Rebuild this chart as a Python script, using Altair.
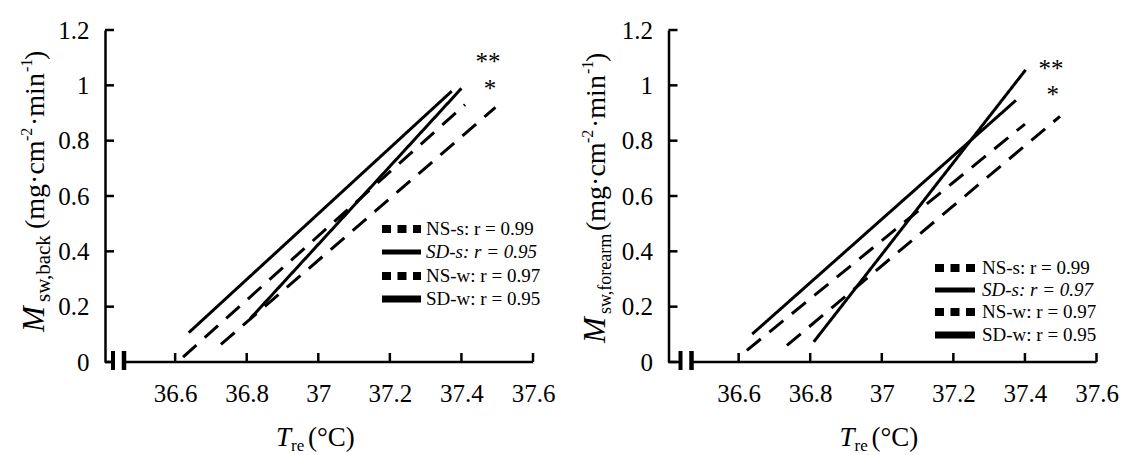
import altair as alt
import pandas as pd

FONT = "Liberation Serif"

series = ["NS-s", "SD-s", "NS-w", "SD-w"]
kinds = ["dash", "solid", "dash", "solid"]

# Panel 1: back
back_x0 = [36.622, 36.638, 36.728, 36.810]
back_x1 = [37.410, 37.373, 37.495, 37.400]
back_y0 = [0.018, 0.106, 0.064, 0.157]
back_y1 = [0.930, 0.979, 0.920, 0.989]
back_r = ["0.99", "0.95", "0.97", "0.95"]

# Panel 2: forearm
fore_x0 = [36.623, 36.638, 36.735, 36.810]
fore_x1 = [37.400, 37.375, 37.498, 37.402]
fore_y0 = [0.042, 0.101, 0.060, 0.073]
fore_y1 = [0.860, 0.946, 0.888, 1.056]
fore_r = ["0.99", "0.97", "0.97", "0.95"]

x_ticks = [36.6, 36.8, 37.0, 37.2, 37.4, 37.6]
y_ticks = [0, 0.2, 0.4, 0.6, 0.8, 1.0, 1.2]

# significance marks (x, y)
back_stars = [("**", 37.474, 1.105), ("*", 37.480, 1.010)]
fore_stars = [("**", 37.473, 1.080), ("*", 37.478, 0.988)]

W, H = 428, 332
one = alt.Data(values=[{"a": 1}])
LABEL_SIZE = 25

X_AXIS = alt.Axis(
    values=x_ticks, format="~g", ticks=False, domain=False, grid=False,
    labelFont=FONT, labelFontSize=LABEL_SIZE, labelColor="black",
    labelPadding=19, labelFlush=False, title=None)
Y_AXIS = alt.Axis(
    values=y_ticks, format="~g", ticks=False, domain=True,
    domainColor="black", domainWidth=2.5, grid=False,
    labelFont=FONT, labelFontSize=LABEL_SIZE, labelColor="black",
    labelPadding=16, labelFlush=False, title=None)


def txt(text, x, y, size, italic=False, angle=0, align="left", baseline="alphabetic"):
    kw = dict(font=FONT, fontSize=size, color="black", align=align, baseline=baseline)
    if italic:
        kw["fontStyle"] = "italic"
    if angle:
        kw["angle"] = angle
    return alt.Chart(one).mark_text(**kw).encode(
        x=alt.value(x), y=alt.value(y), text=alt.value(text)
    )


def hrule(x1, x2, y, width, dash=None, opacity=1):
    kw = dict(color="black", strokeWidth=width, strokeOpacity=opacity)
    if dash:
        kw["strokeDash"] = dash
    return alt.Chart(one).mark_rule(**kw).encode(
        x=alt.value(x1), x2=alt.value(x2), y=alt.value(y)
    )


def vrule(x, y1, y2, width):
    return alt.Chart(one).mark_rule(color="black", strokeWidth=width).encode(
        x=alt.value(x), y=alt.value(y1), y2=alt.value(y2)
    )


def make_panel(x0s, x1s, y0s, y1s, rvals, stars, sub, cfg):
    rows = []
    for s, k, a, b, c, d in zip(series, kinds, x0s, x1s, y0s, y1s):
        rows.append({"series": s, "kind": k, "T": a, "M": c})
        rows.append({"series": s, "kind": k, "T": b, "M": d})
    df = pd.DataFrame(rows)
    xs = alt.Scale(domain=[36.404, 37.6], nice=False, zero=False)
    ys = alt.Scale(domain=[0, 1.2], nice=False, zero=False)

    lines = alt.Chart(df).mark_line(color="black", strokeWidth=3).encode(
        x=alt.X("T:Q", scale=xs, axis=X_AXIS),
        y=alt.Y("M:Q", scale=ys, axis=Y_AXIS),
        detail="series:N",
        strokeDash=alt.StrokeDash("kind:N", scale=alt.Scale(
            domain=["dash", "solid"], range=[[18, 11], [1, 0]]), legend=None),
    )

    yt = alt.Chart(pd.DataFrame({"v": y_ticks})).mark_rule(
        color="black", strokeWidth=2.5).encode(
        y=alt.Y("v:Q", scale=ys, axis=Y_AXIS), x=alt.value(0), x2=alt.value(9))
    xt = alt.Chart(pd.DataFrame({"v": x_ticks})).mark_rule(
        color="black", strokeWidth=2.5).encode(
        x=alt.X("v:Q", scale=xs, axis=X_AXIS), y=alt.value(H), y2=alt.value(H - 9))

    b1, b2 = cfg["brk"]
    axis_parts = [
        hrule(0, b1 - 1, H, 2.5),
        vrule(b1, H - 11, H + 8, 4),
        vrule(b2, H - 11, H + 8, 4.5),
        hrule(b2 + 1, W, H, 2.5),
    ]

    star_df = pd.DataFrame({"s": [s[0] for s in stars],
                            "x": [s[1] for s in stars],
                            "y": [s[2] for s in stars]})
    star_layer = alt.Chart(star_df).mark_text(
        font=FONT, fontSize=25, color="black", dy=6).encode(
        x=alt.X("x:Q", scale=xs, axis=X_AXIS),
        y=alt.Y("y:Q", scale=ys, axis=Y_AXIS),
        text="s:N")

    legend = []
    lx0, lx1, tx = cfg["leg_x"]
    for i, (s, r) in enumerate(zip(series, rvals)):
        y = cfg["leg_y"][i]
        if s.startswith("NS"):
            legend.append(hrule(lx0, lx1, y, 8, dash=[9, 6.5]))
        else:
            legend.append(hrule(lx0, lx1, y, 5 if s == "SD-s" else 7))
        legend.append(txt(f"{s}: r = {r}", tx, y, 19,
                          italic=(s == "SD-s"), baseline="middle"))

    bx = cfg["title_bx"]
    ms, ss, sf = cfg["m_start"], cfg["sub_start"], cfg["sub_font"]
    sh = cfg["shift"]
    title = [
        txt("M", bx, ms, 31, italic=True, angle=270),
        txt(sub, bx + 6, ss, sf, angle=270),
        txt("(mg·cm", bx, 199 + sh, 28, angle=270),
        txt("-2", bx - 12, 111 + sh, 16, angle=270),
        txt("·min", bx, 96 + sh, 28, angle=270),
        txt("-1", bx - 12, 42 + sh, 16, angle=270),
        txt(")", bx, 30 + sh, 28, angle=270),
    ]
    xtitle = [
        txt("T", 171, 416, 27, italic=True),
        txt("re", 186, 421, 17),
        txt("(°C)", 203, 416, 27),
    ]
    ax, ay = cfg["anchor"]
    anchor = hrule(ax, ax + 0.5, ay, 1, opacity=0)

    layers = [lines, yt, xt, star_layer, anchor] + axis_parts + legend + title + xtitle
    return alt.layer(*layers).properties(width=W, height=H)


left = make_panel(back_x0, back_x1, back_y0, back_y1, back_r, back_stars, "sw,back", dict(
    brk=(8, 19), leg_x=(277, 316, 321), leg_y=[199, 222, 246, 269],
    title_bx=-61, m_start=302, sub_start=272, sub_font=21, shift=0, anchor=(-105, -30)))
right = make_panel(fore_x0, fore_x1, fore_y0, fore_y1, fore_r, fore_stars, "sw,forearm", dict(
    brk=(12, 23), leg_x=(266.5, 306.5, 313.5), leg_y=[238, 260, 282, 305],
    title_bx=-64, m_start=313, sub_start=284, sub_font=18, shift=2, anchor=(453, 425)))

chart = alt.hconcat(left, right, spacing=135.5, bounds="flush").properties(
    padding=0
).configure_view(stroke=None).configure_axis(
    labelFont=FONT, labelFontSize=LABEL_SIZE, labelColor="black"
).configure_text(font=FONT)

chart.save("out.html", embed_options={"renderer": "svg", "actions": False})
